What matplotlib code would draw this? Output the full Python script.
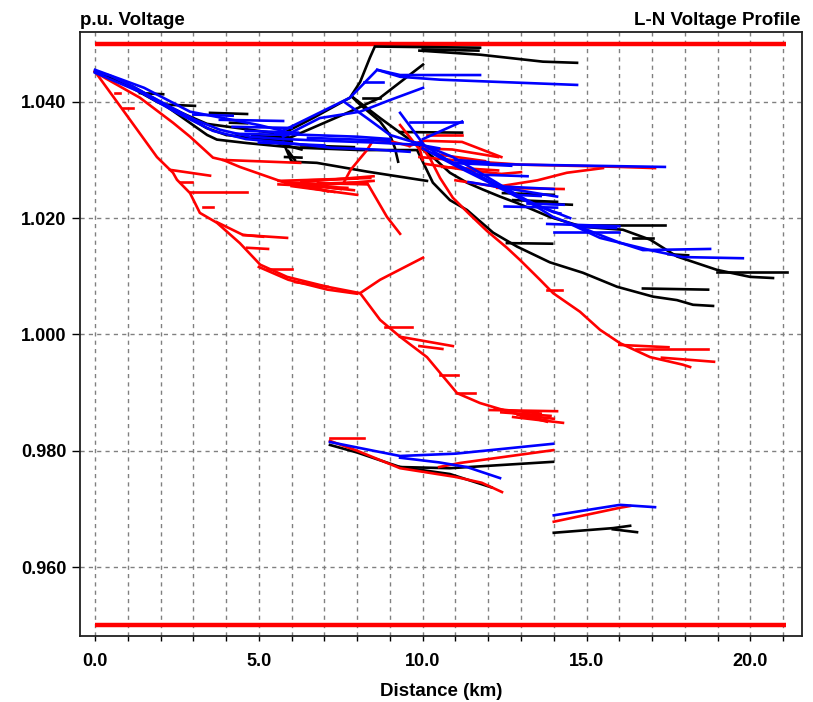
import matplotlib
matplotlib.use("Agg")
import matplotlib.pyplot as plt
from matplotlib.ticker import MultipleLocator, FormatStrFormatter

plt.rcParams['font.family'] = ['Liberation Sans', 'DejaVu Sans']
plt.rcParams['font.weight'] = 'bold'

# ---------------- data (distance km, voltage p.u.) ----------------
limit_span = [0.0, 21.1]
upper_limit = 1.05
lower_limit = 0.95

x_major = [0, 5, 10, 15, 20]
y_major = [0.960, 0.980, 1.000, 1.020, 1.040]

# Phase A (black) feeder branches
black_branches = [
    [(0, 1.0452), (1.16, 1.0426), (1.98, 1.0400), (2.69, 1.0372), (3.42, 1.0343), (3.72, 1.0335),
     (4.64, 1.0329), (5.74, 1.0323), (6.26, 1.0321), (8.09, 1.0317), (9.83, 1.0317), (10.31, 1.0261),
     (10.83, 1.0231), (11.35, 1.0214), (12.15, 1.0175), (12.88, 1.0151), (13.88, 1.0124),
     (14.89, 1.0106), (15.93, 1.0082), (17.03, 1.0065), (17.76, 1.0059), (18.25, 1.0051), (18.86, 1.0049)],
    [(0, 1.0452), (1.0, 1.0428), (1.89, 1.0400), (2.8, 1.0377), (3.42, 1.0362), (4.6, 1.0353), (5.74, 1.0344)],
    [(2.5, 1.0385), (3.4, 1.0355), (4.0, 1.0343), (5.0, 1.0336), (6.0, 1.0331)],
    [(5.8, 1.0323), (6.0, 1.0297), (6.77, 1.0295), (8.3, 1.0280), (10.13, 1.0264)],
    [(7.84, 1.0409), (8.70, 1.0372), (9.70, 1.0331), (10.31, 1.0305), (10.83, 1.0278), (11.35, 1.0261),
     (11.84, 1.0249), (12.36, 1.0237), (12.88, 1.0226), (13.88, 1.0202), (14.89, 1.0185),
     (16.11, 1.0180), (16.94, 1.0163), (17.76, 1.0134), (18.98, 1.0111), (19.99, 1.0099), (20.69, 1.0097)],
    [(5.65, 1.0343), (6.65, 1.0372), (7.78, 1.0407), (8.09, 1.0434), (8.39, 1.0476), (8.54, 1.0495),
     (11.75, 1.0493)],
    [(9.9, 1.0488), (11.75, 1.0481), (13.67, 1.0469), (14.71, 1.0467)],
    [(5.65, 1.0331), (7.78, 1.0383), (8.70, 1.0407), (10.01, 1.0464)],
    [(7.87, 1.0407), (8.09, 1.0395), (8.70, 1.0366), (9.00, 1.0343), (9.15, 1.0321), (9.25, 1.0297)],
    [(7.17, 0.9810), (8.0, 0.9797), (9.31, 0.9772), (10.83, 0.9770), (13.98, 0.9781)],
    [(9.31, 0.9772), (10.83, 0.9760), (12.1, 0.9737)],
    [(14.0, 0.9659), (15.81, 0.9667), (16.33, 0.9671)],
    [(15.8, 0.9665), (16.54, 0.9660)],
]
black_laterals = [
    [(1.37, 1.0415), (2.08, 1.0413)], [(2.2, 1.0395), (3.05, 1.0393)], [(3.51, 1.0381), (4.64, 1.0379)],
    [(4.12, 1.0364), (4.64, 1.0363)], [(5.8, 1.0305), (6.3, 1.0304)], [(8.18, 1.0407), (8.70, 1.0407)],
    [(10.0, 1.0490), (11.7, 1.0488)], [(12.45, 1.0243), (14.0, 1.0240)], [(12.76, 1.0231), (14.1, 1.0228)],
    [(13.27, 1.0226), (14.55, 1.0223)], [(12.57, 1.0157), (13.95, 1.0156)], [(14.9, 1.0188), (17.4, 1.0188)],
    [(16.42, 1.0166), (17.03, 1.0166)], [(18.98, 1.0108), (21.12, 1.0108)], [(16.72, 1.0079), (18.71, 1.0077)],
    [(17.5, 1.0138), (18.1, 1.0136)], [(9.3, 1.0348), (11.2, 1.0347)],
    [(5.3, 1.0336), (6.0, 1.0333)], [(5.5, 1.0330), (6.3, 1.0318)], [(5.9, 1.0315), (6.1, 1.0300)],
    [(6.3, 1.0325), (7.9, 1.0322)], [(4.8, 1.0341), (5.9, 1.0339)],
]

# Phase B (red) feeder branches
red_branches = [
    [(0, 1.0452), (0.85, 1.0386), (1.89, 1.0305), (2.38, 1.0278), (2.50, 1.0266), (2.90, 1.0243),
     (3.20, 1.0209), (3.72, 1.0192), (4.42, 1.0157), (5.04, 1.0120), (5.86, 1.0099), (7.08, 1.0082),
     (8.09, 1.0071), (8.70, 1.0025), (9.31, 0.9996), (10.13, 0.9961), (10.53, 0.9934), (11.05, 0.9899),
     (11.75, 0.9882), (12.76, 0.9865), (13.58, 0.9853), (13.79, 0.9850)],
    [(3.72, 1.0193), (4.52, 1.0171), (5.13, 1.0168)],
    [(5.0, 1.0116), (5.9, 1.0094), (7.1, 1.0077), (8.0, 1.0070)],
    [(8.09, 1.0071), (8.70, 1.0094), (10.01, 1.0132)],
    [(0, 1.0452), (0.24, 1.0443), (1.37, 1.0407), (2.38, 1.0364), (2.90, 1.0340), (3.60, 1.0304),
     (3.91, 1.0300), (4.42, 1.0288), (5.13, 1.0274), (5.74, 1.0262), (6.77, 1.0259), (7.78, 1.0261),
     (8.30, 1.0261), (8.91, 1.0202), (9.31, 1.0173)],
    [(7.6, 1.0262), (7.8, 1.0283), (8.3, 1.0317), (8.5, 1.0335), (9.1, 1.0331), (9.6, 1.0324)],
    [(9.31, 1.0360), (9.92, 1.0317), (10.0, 1.0300)],
    [(9.6, 1.0324), (10.0, 1.0333), (11.2, 1.0331), (12.4, 1.0305)],
    [(9.9, 1.0320), (10.9, 1.0318), (12.3, 1.0305)],
    [(9.9, 1.0305), (10.9, 1.0300), (12.97, 1.0292), (16.02, 1.0288), (17.09, 1.0286)],
    [(10.1, 1.0293), (11.3, 1.0283), (12.4, 1.0276), (13.0, 1.0279)],
    [(11.0, 1.0265), (12.27, 1.0254), (13.5, 1.0265), (14.4, 1.0278), (15.5, 1.0286)],
    [(9.92, 1.0326), (10.22, 1.0303), (10.53, 1.0269), (10.92, 1.0235), (11.44, 1.0206), (11.96, 1.0178),
     (12.57, 1.0149), (12.97, 1.0128), (13.58, 1.0094), (13.98, 1.0071), (14.80, 1.0039), (15.41, 1.0008),
     (16.02, 0.9985), (16.94, 0.9961), (17.94, 0.9948), (18.16, 0.9944)],
    [(7.17, 0.9817), (8.0, 0.9800), (9.31, 0.9770), (11.0, 0.9755), (11.8, 0.9745), (12.42, 0.9729)],
    [(10.5, 0.9772), (11.14, 0.9779), (13.98, 0.9801)],
    [(14.0, 0.9678), (16.02, 0.9702), (16.33, 0.9705)],
]
red_laterals = [
    [(0.6, 1.0415), (0.76, 1.0415)], [(0.85, 1.0390), (1.15, 1.0390)], [(2.29, 1.0283), (3.51, 1.0273)],
    [(2.6, 1.0262), (2.95, 1.0262)], [(2.90, 1.0245), (4.64, 1.0245)], [(3.3, 1.0219), (3.6, 1.0219)],
    [(4.52, 1.0171), (5.86, 1.0166)], [(4.64, 1.0149), (5.28, 1.0147)], [(5.25, 1.0113), (6.0, 1.0113)],
    [(6.1, 1.0090), (7.1, 1.0082)], [(3.91, 1.0300), (6.26, 1.0295)],
    [(5.6, 1.0264), (8.4, 1.0269)], [(5.6, 1.0258), (7.7, 1.0252)], [(6.0, 1.0255), (8.0, 1.0240)],
    [(6.0, 1.0257), (7.3, 1.0245)], [(6.3, 1.0262), (8.5, 1.0272)], [(5.8, 1.0260), (7.0, 1.0255)],
    [(6.5, 1.0265), (8.0, 1.0268)], [(6.8, 1.0260), (8.3, 1.0258)], [(7.0, 1.0257), (8.5, 1.0264)],
    [(5.9, 1.0261), (7.5, 1.0250)], [(6.2, 1.0258), (7.9, 1.0248)], [(6.5, 1.0256), (7.1, 1.0246)],
    [(8.85, 1.0013), (9.67, 1.0013)], [(9.31, 0.9996), (10.92, 0.9980)], [(9.9, 0.9980), (10.6, 0.9975)],
    [(10.53, 0.9930), (11.08, 0.9930)], [(11.05, 0.9900), (11.6, 0.9900)], [(12.05, 0.9870), (14.1, 0.9868)],
    [(12.76, 0.9858), (14.28, 0.9848)], [(12.4, 0.9866), (13.9, 0.9860)], [(12.27, 1.0252), (14.3, 1.0250)],
    [(12.2, 0.9872), (13.6, 0.9864)], [(12.9, 0.9862), (14.0, 0.9855)], [(13.0, 0.9860), (13.8, 0.9852)],
    [(13.79, 1.0077), (14.25, 1.0077)], [(16.5, 0.9975), (18.71, 0.9975)], [(17.3, 0.9960), (18.89, 0.9953)],
    [(16.0, 0.9982), (17.5, 0.9978)], [(7.17, 0.9822), (8.2, 0.9822)], [(10.13, 1.0343), (11.2, 1.0343)],
    [(10.4, 1.0310), (11.9, 1.0298)], [(10.6, 1.0288), (12.3, 1.0282)],
]

# Phase C (blue) feeder branches
blue_branches = [
    [(0, 1.0452), (0.46, 1.0445), (1.16, 1.0426), (2.08, 1.0398), (3.05, 1.0369), (3.81, 1.0352),
     (4.73, 1.0340), (5.74, 1.0336)],
    [(0, 1.0450), (1.37, 1.0417), (2.5, 1.0381), (3.6, 1.0350), (4.6, 1.0336), (5.74, 1.0330)],
    [(0, 1.0455), (1.5, 1.0424), (2.9, 1.0383), (4.1, 1.0370), (5.0, 1.0360), (5.74, 1.0350)],
    [(5.74, 1.0336), (7.0, 1.0333), (8.5, 1.0330), (9.9, 1.0326), (10.5, 1.0320)],
    [(5.74, 1.0330), (7.2, 1.0321), (8.5, 1.0318), (9.6, 1.0314)],
    [(5.5, 1.0345), (8.0, 1.0340), (9.0, 1.0336)],
    [(5.65, 1.0348), (7.78, 1.0407), (8.61, 1.0455), (9.31, 1.0446), (11.75, 1.0446)],
    [(8.61, 1.0455), (9.31, 1.0443), (10.53, 1.0438), (14.71, 1.0429)],
    [(5.74, 1.0340), (6.86, 1.0372), (8.09, 1.0383), (9.0, 1.0403), (10.01, 1.0424)],
    [(7.6, 1.0400), (8.3, 1.0372), (9.0, 1.0343), (9.7, 1.0331), (10.0, 1.0328)],
    [(9.31, 1.0381), (10.01, 1.0328)],
    [(10.01, 1.0336), (11.20, 1.0366)],
    [(9.92, 1.0328), (10.92, 1.0305), (11.96, 1.0271), (12.97, 1.0237), (13.98, 1.0202), (15.01, 1.0180),
     (16.0, 1.0158), (16.72, 1.0145), (18.77, 1.0147)],
    [(14.5, 1.0190), (15.41, 1.0166), (16.94, 1.0145), (17.94, 1.0133), (19.77, 1.0131)],
    [(10.0, 1.0320), (11.0, 1.0290), (12.0, 1.0262), (13.0, 1.0233), (14.0, 1.0210), (14.2, 1.0208)],
    [(10.3, 1.0312), (11.5, 1.0280), (12.5, 1.0250), (13.5, 1.0222), (14.5, 1.0200)],
    [(10.01, 1.0326), (10.9, 1.0295), (13.0, 1.0292), (17.39, 1.0288)],
    [(7.17, 0.9815), (8.5, 0.9800), (9.31, 0.9791), (11.0, 0.9795), (13.98, 0.9812)],
    [(9.31, 0.9788), (10.5, 0.9780), (11.35, 0.9772), (12.36, 0.9753)],
    [(14.0, 0.9689), (16.02, 0.9707), (17.09, 0.9703)],
]
blue_laterals = [
    [(3.0, 1.0378), (4.2, 1.0376)], [(3.81, 1.0369), (5.74, 1.0367)], [(4.2, 1.0357), (6.0, 1.0355)],
    [(4.6, 1.0350), (6.2, 1.0347)], [(4.3, 1.0345), (5.9, 1.0343)], [(8.2, 1.0434), (8.8, 1.0434)],
    [(9.6, 1.0366), (11.20, 1.0366)], [(10.9, 1.0295), (12.7, 1.0290)], [(11.4, 1.0262), (14.1, 1.0237)],
    [(12.5, 1.0220), (14.1, 1.0218)], [(13.8, 1.0190), (16.0, 1.0186)], [(14.0, 1.0176), (16.0, 1.0176)],
    [(5.0, 1.0330), (7.0, 1.0325)], [(6.5, 1.0338), (9.0, 1.0333)],
    [(11.0, 1.0300), (12.0, 1.0296)], [(11.6, 1.0275), (13.2, 1.0272)], [(12.2, 1.0255), (14.0, 1.0250)],
    [(12.8, 1.0240), (13.6, 1.0238)], [(13.2, 1.0225), (14.3, 1.0223)], [(14.8, 1.0185), (15.9, 1.0183)],
]

# ---------------- figure ----------------
fig = plt.figure(figsize=(8.13, 7.02), dpi=100)
W, H = 813, 702
ax = fig.add_axes([80 / W, (H - 636) / H, (802 - 80) / W, (636 - 32) / H])
ax.set_xlim(-0.458, 21.575)
ax.set_ylim(0.94815, 1.0520)

for k in range(0, 22):
    ax.axvline(k, color='#808080', lw=1.0, dashes=(3, 3), zorder=0)
for v in y_major:
    ax.axhline(v, color='#808080', lw=1.0, dashes=(3, 3), zorder=0)

ax.plot(limit_span, [upper_limit, upper_limit], color='#ff0000', lw=3.2, solid_capstyle='butt', zorder=2)
ax.plot(limit_span, [lower_limit, lower_limit], color='#ff0000', lw=3.2, solid_capstyle='butt', zorder=2)

def draw(paths, color, lw):
    for p in paths:
        xs = [q[0] for q in p]
        vs = [q[1] for q in p]
        ax.plot(xs, vs, color=color, lw=lw, solid_joinstyle='miter', zorder=3)

LW = 1.9
draw(black_branches, 'black', LW)
draw(black_laterals, 'black', LW)
draw(red_branches, '#ff0000', LW)
draw(red_laterals, '#ff0000', LW)
draw(blue_branches, '#0000ff', LW)
draw(blue_laterals, '#0000ff', LW)

ax.set_xticks(x_major)
ax.xaxis.set_minor_locator(MultipleLocator(1))
ax.set_yticks(y_major)
ax.xaxis.set_major_formatter(FormatStrFormatter('%.1f'))
ax.yaxis.set_major_formatter(FormatStrFormatter('%.3f'))
ax.tick_params(axis='x', which='both', direction='out', length=3.6, width=1, pad=9, labelsize=13)
ax.tick_params(axis='y', which='both', direction='out', length=6, width=1, pad=3.6, labelsize=13)
for lab in ax.get_xticklabels() + ax.get_yticklabels():
    lab.set_fontweight('bold')
for s in ax.spines.values():
    s.set_linewidth(1.3)
    s.set_color('#202020')

fig.text(80 / W, 1 - 25 / H, 'p.u. Voltage', ha='left', va='baseline', fontsize=13.5, fontweight='bold')
fig.text(800 / W, 1 - 25 / H, 'L-N Voltage Profile', ha='right', va='baseline', fontsize=13.5, fontweight='bold')
fig.text(441 / W, 1 - 696 / H, 'Distance (km)', ha='center', va='baseline', fontsize=13.5, fontweight='bold')

fig.savefig('out.png', dpi=100)
